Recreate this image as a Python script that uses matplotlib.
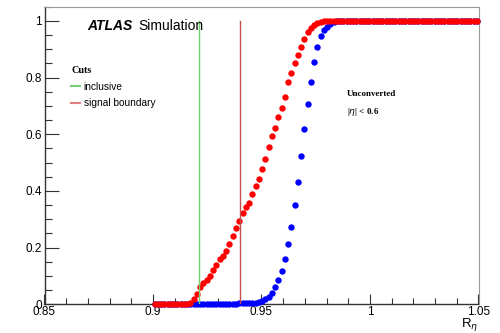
import numpy as np
import matplotlib
matplotlib.use("Agg")
import matplotlib.pyplot as plt
from matplotlib.ticker import MultipleLocator

# --- dados (100 bins entre 0.9 e 1.05) ---
x_min, x_max, n_bins = 0.9, 1.05, 100

vermelho = ([0.0] * 10 + [0.002, 0.006,
            0.018, 0.036, 0.062, 0.074, 0.086, 0.100, 0.121, 0.139, 0.160, 0.170,
            0.189, 0.212, 0.242, 0.268, 0.295, 0.321, 0.343, 0.359, 0.389, 0.419,
            0.441, 0.478, 0.514, 0.556, 0.593, 0.623, 0.660, 0.692, 0.732, 0.786,
            0.817, 0.851, 0.879, 0.909, 0.936, 0.959, 0.974, 0.986, 0.992, 0.995,
            0.998] + [1.0] * 47)

azul = ([0.0] * 12 + [0.001] * 9 +
        [0.002, 0.002, 0.003, 0.003, 0.003, 0.004, 0.004, 0.005, 0.005, 0.006, 0.006,
         0.007, 0.012, 0.019, 0.027, 0.041, 0.060, 0.086, 0.118, 0.160, 0.212,
         0.274, 0.349, 0.433, 0.525, 0.619, 0.706, 0.786, 0.854, 0.907, 0.945,
         0.968, 0.980, 0.990, 0.995, 0.998] + [1.0] * 43)

corte_inclusivo = 0.921
corte_sinal = 0.94

x_ticks = [0.85, 0.9, 0.95, 1.0, 1.05]
x_tick_labels = ['0.85', '0.9', '0.95', '1', '1.05']
y_ticks = [0, 0.2, 0.4, 0.6, 0.8, 1.0]
y_tick_labels = ['0', '0.2', '0.4', '0.6', '0.8', '1']
# ---------------------------------------------------------

bordas = np.linspace(x_min, x_max, n_bins + 1)
centros = 0.5 * (bordas[:-1] + bordas[1:])

plt.rcParams['font.family'] = ['Liberation Sans', 'DejaVu Sans']

fig = plt.figure(figsize=(5, 3.33), dpi=100)
ax = fig.add_axes([0.089, 0.086, 0.868, 0.894])

ax.plot(centros, azul, 'o', color='#0000ff', ms=4.6, mew=0, clip_on=False, zorder=3)
ax.plot(centros, vermelho, 'o', color='#ff0000', ms=4.6, mew=0, clip_on=False, zorder=4)

# linhas verticais dos cortes (a legenda usa cores mais claras, como no original)
ax.plot([corte_inclusivo, corte_inclusivo], [0, 1], color='#6fd06f', lw=1.0, zorder=5)
ax.plot([corte_sinal, corte_sinal], [0, 1], color='#c05050', lw=1.0, zorder=5)
ax.plot([], [], color='#77d077', lw=1.5, label='inclusive')
ax.plot([], [], color='#e08080', lw=1.5, label='signal boundary')

ax.set_xlim(0.85, 1.05)
ax.set_ylim(0, 1.05)
ax.set_xticks(x_ticks)
ax.set_xticklabels(x_tick_labels)
ax.set_yticks(y_ticks)
ax.set_yticklabels(y_tick_labels)
ax.xaxis.set_minor_locator(MultipleLocator(0.01))
ax.yaxis.set_minor_locator(MultipleLocator(0.05))

ax.tick_params(which='both', direction='in', top=False, right=False, labelsize=8.5,
               color='#333333', width=0.8)
ax.tick_params(axis='x', which='major', length=7, pad=1)
ax.tick_params(axis='x', which='minor', length=4)
ax.tick_params(axis='y', which='major', length=10, pad=2)
ax.tick_params(axis='y', which='minor', length=5)

for lado in ['left', 'bottom']:
    ax.spines[lado].set_color('#333333')
    ax.spines[lado].set_linewidth(1.0)
for lado in ['top', 'right']:
    ax.spines[lado].set_color('#999999')
    ax.spines[lado].set_linewidth(0.8)

ax.set_xlabel(r'R$_{\eta}$', fontsize=9.5, loc='right', labelpad=-1)

# textos
fig.text(87 / 500, 1 - 26 / 333, 'ATLAS', fontsize=10, fontweight='bold',
         fontstyle='italic', va='center', ha='left')
fig.text(138 / 500, 1 - 26 / 333, 'Simulation', fontsize=10, va='center', ha='left')

leg = ax.legend(loc='upper left', frameon=False, fontsize=7.3,
                title='Cuts', handlelength=0.9, handletextpad=0.35, labelspacing=0.65,
                borderaxespad=0, borderpad=0)
leg.set_bbox_to_anchor((71 / 500, 1 - 66 / 333), transform=fig.transFigure)
leg.get_title().set_fontfamily('Liberation Serif')
leg.get_title().set_fontweight('bold')
leg.get_title().set_fontsize(7.3)
leg._legend_box.align = 'left'

fig.text(347 / 500, 1 - 94 / 333, 'Unconverted', family='Liberation Serif',
         fontweight='bold', fontsize=6.5, va='center', ha='left')
fig.text(347 / 500, 1 - 112.5 / 333, r'|$\eta$| < 0.6', family='Liberation Serif',
         fontweight='bold', fontsize=6.5, va='center', ha='left')

fig.savefig('out.png', dpi=100)
